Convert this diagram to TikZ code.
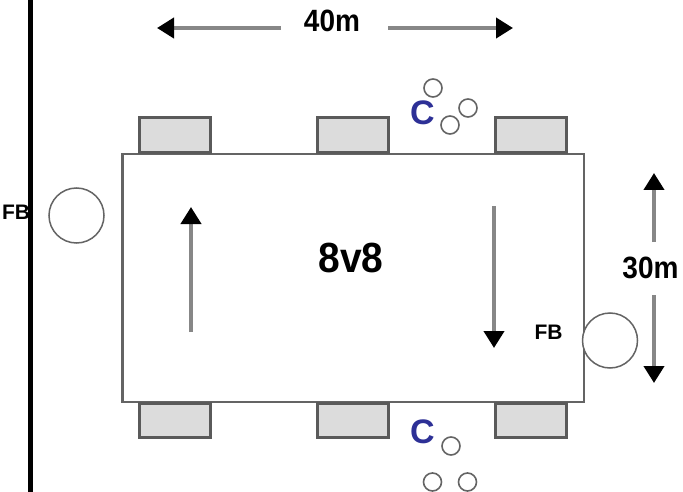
\documentclass[tikz,border=0pt]{standalone}
\usepackage{fontspec}
\setmainfont{Liberation Sans}
\usetikzlibrary{positioning,arrows.meta}
\definecolor{PitchGrey}{RGB}{100,100,100}
\definecolor{BenchFill}{RGB}{220,220,220}
\definecolor{ShaftGrey}{RGB}{135,135,135}
\definecolor{CoachBlue}{RGB}{45,48,150}

\begin{document}
\begin{tikzpicture}[x=1pt,y=-1pt,
pitch/.style={rectangle,draw=PitchGrey,line width=2.5pt,minimum width=461.5pt,minimum height=247.5pt,inner sep=0pt},
bench/.style={rectangle,draw=PitchGrey!90!black,fill=BenchFill,line width=3pt,minimum width=71pt,minimum height=34.5pt,inner sep=0pt},
goal/.style={circle,draw=PitchGrey,line width=1.5pt,fill=white,minimum size=55pt,inner sep=0pt},
ball/.style={circle,draw=PitchGrey,line width=1.6pt,minimum size=18pt,inner sep=0pt},
lbl/.style={font=\bfseries\fontsize{28}{30}\selectfont,inner sep=0pt},
fb/.style={font=\bfseries\fontsize{21}{22}\selectfont,inner sep=0pt},
coach/.style={font=\bfseries\fontsize{34}{36}\selectfont,text=CoachBlue,inner sep=0pt},
arrow/.style={-{Triangle[width=20pt,length=17pt,color=black]},line width=4pt,draw=ShaftGrey},
wall/.style={line width=5pt,draw=black}
]
\useasboundingbox (0,0) rectangle (683,492);
\draw[wall] (30.5,-2) -- (30.5,494);
\node[pitch] (field) at (353,278) {};
\node[font=\bfseries\fontsize{39}{42}\selectfont,inner sep=0pt] (game) at (351,258) {\scalebox{1}[1.08]{8v8}};
% benches
\node[bench] (b1) at (174.5,135) {};
\node[bench] (b2) at (352.5,135) {};
\node[bench] (b3) at (530.5,135) {};
\node[bench] (b4) at (174.5,420.5) {};
\node[bench] (b5) at (352.5,420.5) {};
\node[bench] (b6) at (530.5,420.5) {};
% goals
\node[goal] (g1) at (76.5,215.5) {};
\node[fb] (fb1) at (16,212.5) {FB};
\node[goal] (g2) at (610,340.5) {};
\node[fb] (fb2) at (548.5,332.5) {FB};
% coaches and balls
\node[coach] (c1) at (422.5,112.5) {C};
\node[ball] (t1) at (433,88) {};
\node[ball] (t2) at (468,108) {};
\node[ball] (t3) at (450,125) {};
\node[coach] (c2) at (422.5,432) {C};
\node[ball] (u1) at (451,446) {};
\node[ball] (u2) at (432.5,482) {};
\node[ball] (u3) at (467.5,482) {};
% play direction
\coordinate (up0) at (191,332);
\coordinate (up1) at (191,207);
\coordinate (dn0) at (494,206);
\coordinate (dn1) at (494,348);
\draw[arrow] (up0)--(up1); \draw[arrow] (dn0)--(dn1);
% dimensions
\node[lbl] (len) at (332,21) {\scalebox{1}[1.1]{40m}};
\node[lbl] (wid) at (650.5,267.5) {\scalebox{1}[1.1]{30m}};
\coordinate (lenL0) at (281,28); \coordinate (lenL1) at (157,28);
\coordinate (lenR0) at (388,28); \coordinate (lenR1) at (513,28);
\coordinate (widU0) at (654,242); \coordinate (widU1) at (654,173);
\coordinate (widD0) at (654,295); \coordinate (widD1) at (654,383);
\draw[arrow] (lenL0)--(lenL1); \draw[arrow] (lenR0)--(lenR1);
\draw[arrow] (widU0)--(widU1); \draw[arrow] (widD0)--(widD1);
\end{tikzpicture}
\end{document}
